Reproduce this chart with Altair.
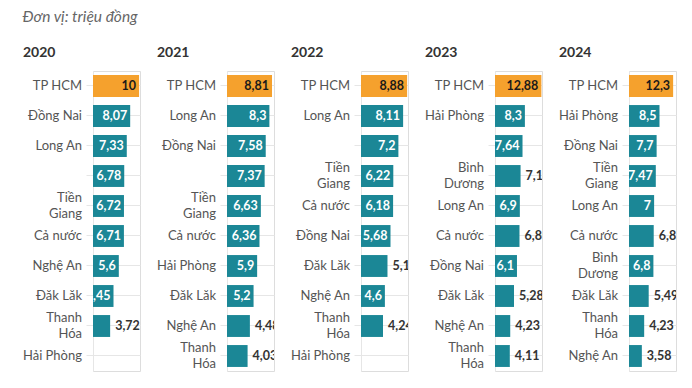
import altair as alt
import pandas as pd

years = ["2020", "2021", "2022", "2023", "2024"]

names_2020 = ["TP HCM", "Đồng Nai", "Long An", " ", "Tiền|Giang", "Cả nước", "Nghệ An", "Đăk Lăk", "Thanh|Hóa", "Hải Phòng"]
vals_2020 = ["10", "8,07", "7,33", "6,78", "6,72", "6,71", "5,6", "4,45", "3,72", None]
out_2020 = [0, 0, 0, 0, 0, 0, 0, 0, 1, 0]

names_2021 = ["TP HCM", "Long An", "Đồng Nai", " ", "Tiền|Giang", "Cả nước", "Hải Phòng", "Đăk Lăk", "Nghệ An", "Thanh|Hóa"]
vals_2021 = ["8,81", "8,3", "7,58", "7,37", "6,63", "6,36", "5,9", "5,2", "4,48", "4,03"]
out_2021 = [0, 0, 0, 0, 0, 0, 0, 0, 1, 1]

names_2022 = ["TP HCM", "Long An", " ", "Tiền|Giang", "Cả nước", "Đồng Nai", "Đăk Lăk", "Nghệ An", "Thanh|Hóa", "Hải Phòng"]
vals_2022 = ["8,88", "8,11", "7,2", "6,22", "6,18", "5,68", "5,1", "4,6", "4,24", None]
out_2022 = [0, 0, 0, 0, 0, 0, 1, 0, 1, 0]

names_2023 = ["TP HCM", "Hải Phòng", " ", "Bình|Dương", "Long An", "Cả nước", "Đồng Nai", "Đăk Lăk", "Nghệ An", "Thanh|Hóa"]
vals_2023 = ["12,88", "8,3", "7,64", "7,1", "6,9", "6,80", "6,1", "5,28", "4,23", "4,11"]
out_2023 = [0, 0, 0, 1, 0, 1, 0, 1, 1, 1]

names_2024 = ["TP HCM", "Hải Phòng", "Đồng Nai", "Tiền|Giang", "Long An", "Cả nước", "Bình|Dương", "Đăk Lăk", "Thanh|Hóa", "Nghệ An"]
vals_2024 = ["12,3", "8,5", "7,7", "7,47", "7", "6,89", "6,8", "5,49", "4,23", "3,58"]
out_2024 = [0, 0, 0, 0, 0, 1, 0, 1, 1, 1]

panels = [
    (years[0], names_2020, vals_2020, out_2020, 10.2),
    (years[1], names_2021, vals_2021, out_2021, 9.2),
    (years[2], names_2022, vals_2022, out_2022, 9.05),
    (years[3], names_2023, vals_2023, out_2023, 13.05),
    (years[4], names_2024, vals_2024, out_2024, 13.1),
]

ORANGE = "#F5A12D"
TEAL = "#1B8796"
FONT = "Lato"
GRID = "#e6e6e6"


def panel(year, names, vals, outside, xmax):
    df = pd.DataFrame({
        "name": names,
        "v": [float(s.replace(",", ".")) if s else None for s in vals],
        "lab": [s if s else "" for s in vals],
        "out": outside,
        "top": [1 if i == 0 else 0 for i in range(len(names))],
    })
    y = alt.Y(
        "name:N",
        scale=alt.Scale(domain=names, paddingInner=0.27, paddingOuter=0.135),
        axis=alt.Axis(
            title=None,
            labels=False,
            tickSize=7,
            tickColor=GRID,
            domainColor=GRID,
            grid=True,
            gridColor=GRID,
        ),
    )
    xs = alt.Scale(domain=[0, xmax], nice=False, zero=True)
    base = alt.Chart(df).encode(y=y)
    lab_style = dict(align="right", baseline="middle", lineBreak="|", lineHeight=16,
                     font=FONT, fontSize=13, color="#555555")
    labels1 = base.transform_filter("indexof(datum.name, '|') < 0").mark_text(
        **lab_style).encode(x=alt.value(-11), text="name:N")
    labels2 = base.transform_filter("indexof(datum.name, '|') >= 0").mark_text(
        dy=-8, **lab_style).encode(x=alt.value(-11), text="name:N")
    bars = base.transform_filter("isValid(datum.v)").mark_bar().encode(
        x=alt.X("v:Q", scale=xs, axis=None),
        color=alt.condition("datum.top == 1", alt.value(ORANGE), alt.value(TEAL)),
    )
    t_in = base.transform_filter("datum.out == 0 && isValid(datum.v)").mark_text(
        align="right", dx=-3, font=FONT, fontSize=12.5, fontWeight="bold", clip=True
    ).encode(
        x=alt.X("v:Q", scale=xs, axis=None),
        text="lab:N",
        color=alt.condition("datum.top == 1", alt.value("#1a1a1a"), alt.value("white")),
    )
    t_out = base.transform_filter("datum.out == 1 && isValid(datum.v)").mark_text(
        align="left", dx=5, font=FONT, fontSize=12.5, fontWeight="bold", clip=True, color="#333333"
    ).encode(
        x=alt.X("v:Q", scale=xs, axis=None),
        text="lab:N",
    )
    return alt.layer(labels1, labels2, bars, t_in, t_out).properties(
        width=47,
        height=300,
        title=alt.TitleParams(year, anchor="start", font=FONT, fontSize=14, fontWeight="bold",
                              color="#333333", offset=11),
    )


chart = alt.hconcat(*[panel(*p) for p in panels], spacing=87, bounds="flush").properties(
    title=alt.TitleParams("Đơn vị: triệu đồng", anchor="start", font=FONT, fontSize=15.5,
                          fontStyle="italic", fontWeight="normal", color="#666666", offset=20),
    padding={"left": 14, "top": 2, "right": 0, "bottom": 0},
).configure_view(stroke=None).configure(background="white")

chart.save("out.html", embed_options={"renderer": "svg", "actions": False})
